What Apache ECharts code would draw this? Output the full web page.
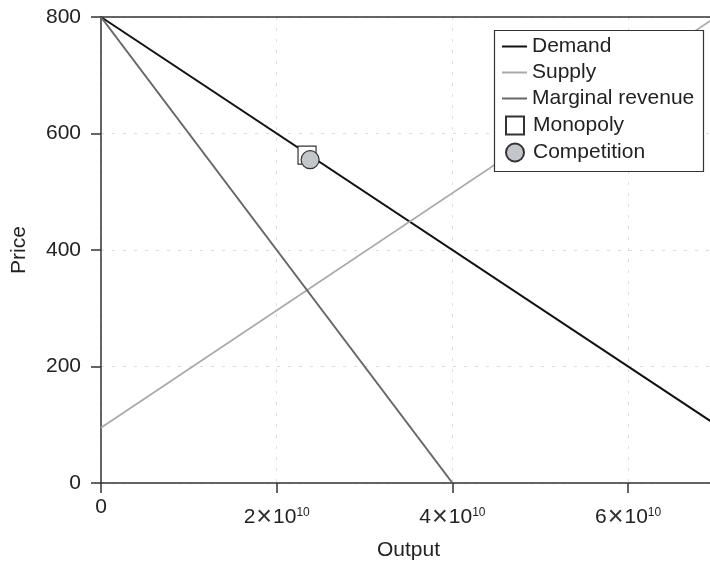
<!DOCTYPE html>
<html>
<head>
<meta charset="utf-8">
<title>Monopoly vs competition</title>
<script src="https://cdn.jsdelivr.net/npm/echarts@6/dist/echarts.min.js"></script>
<style>
  html, body { margin: 0; padding: 0; background: #fff; }
  #chart { width: 710px; height: 568px; }
</style>
</head>
<body>
<div id="chart"></div>
<script>
// Straight-line curves: output at both ends and the matching prices
const lineOutput = [0, 7e10];
const demandPrice = [800, 100];
const supplyPrice = [95, 800];
const mrOutput = [0, 4e10];
const mrPrice = [800, 0];

// Equilibrium points [output, price]
const monopolyPoint = [2.345e10, 563];
const competitionPoint = [2.38e10, 555];

// Axis ticks
const priceTicks = [0, 200, 400, 600, 800];
const outputTickValues = [0, 2e10, 4e10, 6e10];
const outputTickMantissa = ['0', '2', '4', '6'];
const outputTickExponent = ['', '10', '10', '10'];

const FONT = "'Liberation Sans', Arial, Helvetica, sans-serif";
const INK = '#222';
const FS = 21;

function outputLabel(v) {
  const i = outputTickValues.indexOf(v);
  if (i < 0) return '';
  if (!outputTickExponent[i]) return '{z|' + outputTickMantissa[i] + '}';
  return '{n|' + outputTickMantissa[i] + '}{x|×}{n|10}{s|' + outputTickExponent[i] + '}';
}

const chart = echarts.init(document.getElementById('chart'), null, { renderer: 'canvas' });

const axisLineStyle = { color: '#333', width: 1.5 };
const gridLineStyle = { color: '#dcdcdc', type: [3, 8], width: 1 };

chart.setOption({
  animation: false,
  backgroundColor: '#fff',
  textStyle: { fontFamily: FONT, color: INK },
  grid: { left: 101, top: 17, width: 615, bottom: 85, outerBoundsMode: 'none', containLabel: false },
  xAxis: [
    {
      type: 'value',
      min: 0, max: 7e10, interval: 2e10,
      name: 'Output', nameLocation: 'middle', nameGap: 57,
      nameTextStyle: { fontFamily: FONT, fontSize: FS, color: INK },
      axisLine: { show: true, onZero: false, lineStyle: axisLineStyle },
      axisTick: { show: true, inside: false, length: 10, lineStyle: axisLineStyle },
      splitLine: { show: true, lineStyle: gridLineStyle },
      axisLabel: {
        margin: 14, showMaxLabel: false,
        formatter: outputLabel,
        rich: {
          z: { fontFamily: FONT, fontSize: FS, color: INK },
          n: { fontFamily: FONT, fontSize: FS, color: INK, padding: [10, 0, 0, 0] },
          x: { fontFamily: FONT, fontSize: 27, lineHeight: 21, color: '#333', padding: [10, 1, 0, 1] },
          s: { fontFamily: FONT, fontSize: 12, color: INK, verticalAlign: 'top', padding: [10, 0, 0, 0] }
        }
      }
    },
    {
      // closing frame line along the top of the plot
      type: 'value', position: 'top',
      min: 0, max: 7e10,
      axisLine: { show: true, onZero: false, lineStyle: axisLineStyle },
      axisTick: { show: false }, axisLabel: { show: false }, splitLine: { show: false }
    }
  ],
  yAxis: {
    type: 'value',
    min: priceTicks[0], max: priceTicks[priceTicks.length - 1], interval: 200,
    name: 'Price', nameLocation: 'middle', nameGap: 71, nameRotate: 90,
    nameTextStyle: { fontFamily: FONT, fontSize: FS, color: INK },
    axisLine: { show: true, onZero: false, lineStyle: axisLineStyle },
    axisTick: { show: true, inside: false, length: 10, lineStyle: axisLineStyle },
    splitLine: { show: true, lineStyle: gridLineStyle },
    axisLabel: { margin: 20, fontFamily: FONT, fontSize: FS, color: INK }
  },
  legend: [
    {
      orient: 'vertical', left: 502, top: 36, padding: 0,
      itemWidth: 25, itemHeight: 2, itemGap: 5,
      textStyle: { fontFamily: FONT, fontSize: FS, color: INK },
      data: [
        { name: 'Demand', icon: 'rect' },
        { name: 'Supply', icon: 'rect' },
        { name: 'Marginal revenue', icon: 'rect' }
      ]
    },
    {
      orient: 'vertical', left: 505, top: 115, padding: 0,
      itemWidth: 18, itemHeight: 18, itemGap: 6,
      textStyle: { fontFamily: FONT, fontSize: FS, color: INK, padding: [0, 0, 0, 4] },
      data: [
        { name: 'Monopoly', icon: 'rect' },
        { name: 'Competition', icon: 'circle' }
      ]
    }
  ],
  graphic: [{
    type: 'rect', z: 3,
    shape: { x: 494.5, y: 30.5, width: 209, height: 141 },
    style: { fill: '#fff', stroke: '#333', lineWidth: 1.2 }
  }],
  series: [
    {
      name: 'Demand', type: 'line', symbol: 'none', z: 2,
      lineStyle: { color: '#111', width: 2 }, itemStyle: { color: '#111' },
      data: lineOutput.map((q, i) => [q, demandPrice[i]])
    },
    {
      name: 'Supply', type: 'line', symbol: 'none', z: 2,
      lineStyle: { color: '#aaa', width: 1.8 }, itemStyle: { color: '#aaa' },
      data: lineOutput.map((q, i) => [q, supplyPrice[i]])
    },
    {
      name: 'Marginal revenue', type: 'line', symbol: 'none', z: 2,
      lineStyle: { color: '#666', width: 2 }, itemStyle: { color: '#666' },
      data: mrOutput.map((q, i) => [q, mrPrice[i]])
    },
    {
      name: 'Monopoly', type: 'scatter', symbol: 'rect', symbolSize: 18, z: 2,
      itemStyle: { color: '#fff', borderColor: '#333', borderWidth: 1.2, opacity: 1 },
      data: [monopolyPoint]
    },
    {
      name: 'Competition', type: 'scatter', symbol: 'circle', symbolSize: 18, z: 2,
      itemStyle: { color: '#c4c6cc', borderColor: '#333', borderWidth: 1.2, opacity: 1 },
      data: [competitionPoint]
    }
  ]
});
</script>
</body>
</html>
